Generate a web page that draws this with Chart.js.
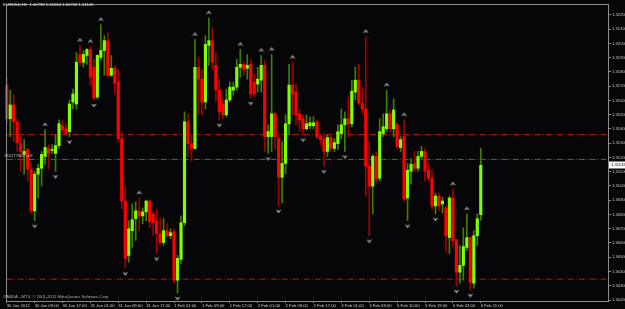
<!DOCTYPE html>
<html><head><meta charset="utf-8"><title>EURUSD,H1</title>
<script src="https://cdn.jsdelivr.net/npm/chart.js@4.4.1/dist/chart.umd.min.js"></script>
<style>html,body{margin:0;padding:0;background:#060608;overflow:hidden;width:625px;height:309px}canvas{display:block}</style>
</head><body><canvas id="chart" width="625" height="309"></canvas>
<script>
const symbol = "EURUSD";
const timeframe = "H1";

const opens = [1.31707,1.31471,1.31568,1.31450,1.31297,1.31221,1.31256,1.31117,1.30825,1.31082,
1.31124,1.31207,1.31263,1.31249,1.31228,1.31283,1.31422,1.31401,1.31381,1.31589,
1.31575,1.31922,1.31867,1.31915,1.31957,1.31832,1.31624,1.31901,1.31950,1.32019,
1.31776,1.31825,1.31728,1.31332,1.30894,1.30513,1.30686,1.30770,1.30825,1.30790,
1.30818,1.30894,1.30804,1.30756,1.30665,1.30603,1.30686,1.30651,1.30679,1.30339,
1.30485,1.30742,1.31450,1.31297,1.31263,1.31832,1.31749,1.31589,1.31985,1.32019,
1.31846,1.31672,1.31575,1.31499,1.31603,1.31672,1.31693,1.31832,1.31853,1.31825,
1.31853,1.31728,1.31714,1.31742,1.31846,1.31346,1.31346,1.31506,1.31332,1.31061,
1.31158,1.31436,1.31707,1.31658,1.31506,1.31471,1.31401,1.31422,1.31422,1.31450,
1.31353,1.31332,1.31242,1.31339,1.31263,1.31297,1.31367,1.31429,1.31471,1.31436,
1.31658,1.31742,1.31582,1.31540,1.31138,1.30999,1.31207,1.31054,1.31367,1.31401,
1.31506,1.31401,1.31429,1.31270,1.31346,1.30915,1.31103,1.31158,1.31124,1.31207,
1.31242,1.31110,1.31054,1.30860,1.30929,1.30874,1.30846,1.30638,1.30915,1.30624,
1.30395,1.30443,1.30568,1.30638,1.30318,1.30651,1.30798];

const highs = [1.31762,1.31672,1.31637,1.31471,1.31360,1.31325,1.31263,1.31172,1.31103,1.31151,
1.31242,1.31394,1.31290,1.31290,1.31360,1.31464,1.31457,1.31436,1.31603,1.31679,
1.31936,1.31985,1.31950,1.31964,1.31978,1.31888,1.31922,1.32131,1.32054,1.32075,
1.31915,1.31846,1.31818,1.31381,1.30999,1.30756,1.30874,1.30888,1.30915,1.30846,
1.30901,1.30901,1.30825,1.30839,1.30776,1.30770,1.30735,1.30700,1.30700,1.30513,
1.30790,1.31520,1.31506,1.31360,1.32026,1.31901,1.31818,1.32054,1.32179,1.32110,
1.31936,1.31749,1.31610,1.31679,1.31728,1.31728,1.31888,1.31957,1.31867,1.31922,
1.31888,1.31783,1.31832,1.31915,1.31881,1.31429,1.31922,1.31520,1.31360,1.31311,
1.31499,1.31853,1.31867,1.31714,1.31540,1.31499,1.31499,1.31485,1.31485,1.31464,
1.31367,1.31367,1.31360,1.31367,1.31332,1.31429,1.31540,1.31520,1.31624,1.31742,
1.31832,1.31853,1.31693,1.32047,1.31311,1.31221,1.31242,1.31471,1.31506,1.31672,
1.31533,1.31610,1.31443,1.31346,1.31464,1.31158,1.31193,1.31242,1.31242,1.31276,
1.31263,1.31158,1.31117,1.30950,1.30950,1.30922,1.30860,1.30929,1.30978,1.30624,
1.30582,1.30707,1.30804,1.30645,1.30686,1.30804,1.31264];

const lows = [1.31436,1.31346,1.31311,1.31242,1.31103,1.31082,1.31033,1.30804,1.30756,1.30915,
1.30999,1.31151,1.31124,1.31228,1.31103,1.31263,1.31374,1.31360,1.31346,1.31540,
1.31540,1.31846,1.31832,1.31853,1.31707,1.31603,1.31610,1.31881,1.31776,1.31762,
1.31769,1.31645,1.31311,1.30839,1.30422,1.30464,1.30568,1.30617,1.30686,1.30735,
1.30756,1.30707,1.30651,1.30526,1.30582,1.30582,1.30638,1.30631,1.30318,1.30249,
1.30457,1.30721,1.31207,1.31172,1.31256,1.31499,1.31499,1.31540,1.31846,1.31818,
1.31589,1.31464,1.31471,1.31485,1.31589,1.31637,1.31672,1.31762,1.31776,1.31749,
1.31617,1.31624,1.31658,1.31658,1.31242,1.31228,1.31242,1.31256,1.30860,1.30881,
1.31082,1.31360,1.31499,1.31429,1.31381,1.31360,1.31394,1.31401,1.31401,1.31332,
1.31290,1.31138,1.31207,1.31242,1.31242,1.31256,1.31332,1.31242,1.31346,1.31415,
1.31603,1.31568,1.31506,1.30929,1.30651,1.30804,1.31020,1.31033,1.31346,1.31381,
1.31381,1.31346,1.31263,1.31242,1.30894,1.30756,1.31013,1.31103,1.31103,1.31186,
1.31033,1.31033,1.30839,1.30804,1.30825,1.30811,1.30533,1.30526,1.30568,1.30298,
1.30318,1.30339,1.30547,1.30270,1.30283,1.30582,1.30758];

const closes = [1.31471,1.31568,1.31450,1.31304,1.31242,1.31242,1.31117,1.30825,1.31082,1.31124,
1.31221,1.31270,1.31228,1.31256,1.31283,1.31436,1.31394,1.31367,1.31575,1.31645,
1.31867,1.31867,1.31922,1.31957,1.31762,1.31617,1.31915,1.31950,1.32019,1.31776,
1.31825,1.31721,1.31332,1.30894,1.30492,1.30700,1.30763,1.30825,1.30790,1.30818,
1.30894,1.30749,1.30742,1.30665,1.30603,1.30686,1.30651,1.30672,1.30339,1.30492,
1.30742,1.31450,1.31297,1.31263,1.31832,1.31749,1.31589,1.31992,1.32019,1.31867,
1.31672,1.31520,1.31499,1.31603,1.31693,1.31693,1.31832,1.31853,1.31818,1.31846,
1.31645,1.31645,1.31749,1.31846,1.31346,1.31381,1.31506,1.31346,1.31061,1.31158,
1.31436,1.31707,1.31645,1.31499,1.31464,1.31401,1.31436,1.31443,1.31443,1.31346,
1.31325,1.31242,1.31339,1.31263,1.31304,1.31381,1.31429,1.31471,1.31436,1.31665,
1.31742,1.31582,1.31540,1.31138,1.30999,1.31207,1.31047,1.31381,1.31415,1.31506,
1.31401,1.31533,1.31276,1.31325,1.30908,1.31110,1.31151,1.31124,1.31207,1.31242,
1.31103,1.31054,1.30860,1.30929,1.30860,1.30894,1.30651,1.30915,1.30617,1.30395,
1.30443,1.30575,1.30638,1.30325,1.30651,1.30770,1.31145];

const tickLabels = ["30 Jan 2012","30 Jan 09:00","30 Jan 17:00","31 Jan 01:00","31 Jan 09:00","31 Jan 17:00",
"1 Feb 01:00","1 Feb 09:00","1 Feb 17:00","2 Feb 01:00","2 Feb 09:00","2 Feb 17:00",
"3 Feb 01:00","3 Feb 09:00","5 Feb 10:00","5 Feb 19:00","6 Feb 03:00","6 Feb 11:00"];
const yTickValues = [1.302,1.303,1.304,1.305,1.306,1.307,1.308,1.309,1.310,1.311,1.312,
1.313,1.314,1.315,1.316,1.317,1.318,1.319,1.320,1.321,1.322];

const fractalUpBars = [11,21,24,27,38,54,58,67,73,76,82,103,109,114,128,132];
const fractalDownBars = [8,14,18,25,34,43,49,61,70,75,78,85,91,97,104,115,123,129,133];

const orderPrice = 1.31186;
const stopLossPrice = 1.31360;
const takeProfitPrice = 1.30346;
const orderLabel = "#81277502 sell";
const brokerNote = "OANDA - MT4, \u00a9 2001-2011 MetaQuotes Software Corp.";

// ---- layout / style ----
const LABELS_EVERY = 8, SLOT_COUNT = 173, Y_MIN = 1.30193, Y_MAX = 1.32269;
const FONT = "'Liberation Sans', Arial, sans-serif";
const FS = 4.2;
const C = {
  bg: '#060608', bullBody: '#80ff00', bearBody: '#ff0000', bullWick: '#3f7f00', bearWick: '#a00000',
  frame: '#8c8c8c', text: '#c8c8c8', fractal: '#9a9a9a', slLine: 'rgb(200,20,20)', orderLine: 'rgb(20,150,20)'
};

const n = opens.length;
const bull = i => closes[i] >= opens[i];
const categories = Array.from({length: SLOT_COUNT}, (_, i) => String(i));
const fmt = v => v.toFixed(5);

function makeArrow(up) {
  const c = document.createElement('canvas'); c.width = 7; c.height = 16;
  const g = c.getContext('2d'); g.fillStyle = C.fractal; g.beginPath();
  if (up) { g.moveTo(3.5, 0.5); g.lineTo(6.5, 4.5); g.lineTo(3.5, 3.2); g.lineTo(0.5, 4.5); }
  else { g.moveTo(3.5, 15.5); g.lineTo(6.5, 11.5); g.lineTo(3.5, 12.8); g.lineTo(0.5, 11.5); }
  g.closePath(); g.fill();
  return c;
}

function levelLine(label, price, color) {
  return { type: 'line', label, data: categories.map(() => price), borderColor: color, backgroundColor: color,
    borderWidth: 1, borderDash: [6, 2, 1, 2], pointRadius: 0, fill: false, tension: 0, order: 5 };
}

const overlay = {
  id: 'mt4',
  beforeDraw(chart) {
    const {ctx, width, height} = chart;
    ctx.save(); ctx.fillStyle = C.bg; ctx.fillRect(0, 0, width, height); ctx.restore();
  },
  afterDraw(chart) {
    const {ctx, chartArea: a, scales: {y}} = chart;
    ctx.save();
    ctx.strokeStyle = C.frame; ctx.lineWidth = 1;
    ctx.strokeRect(a.left + 1.5, a.top - 0.5, a.right - a.left - 1, a.bottom - a.top + 1);
    ctx.font = FS + 'px ' + FONT; ctx.textBaseline = 'middle'; ctx.textAlign = 'left';
    ctx.fillStyle = '#e0e0e0';
    ctx.fillText(symbol + ',' + timeframe + '  ' + fmt(opens[n-1]) + ' ' + fmt(highs[n-1]) + ' ' + fmt(lows[n-1]) + ' ' + fmt(closes[n-1]), 3, 5);
    ctx.fillStyle = '#b0b0b0';
    ctx.fillText(brokerNote, 3, a.bottom - 4);
    const oy = Math.round(y.getPixelForValue(orderPrice));
    ctx.fillStyle = '#c8c8c8';
    ctx.fillText(orderLabel, 4, oy - 3);
    const cy = Math.round(y.getPixelForValue(closes[n-1]));
    ctx.fillStyle = '#ffffff'; ctx.fillRect(a.right + 1, cy - 3.5, 20, 7);
    ctx.fillStyle = '#000000'; ctx.fillText(fmt(closes[n-1]), a.right + 3, cy);
    ctx.restore();
  }
};

new Chart(document.getElementById('chart'), {
  data: {
    labels: categories,
    datasets: [
      { type: 'line', label: 'up fractals', data: opens.map((_, i) => fractalUpBars.includes(i) ? highs[i] : null),
        showLine: false, pointStyle: makeArrow(true), pointRadius: 3, order: -1 },
      { type: 'line', label: 'down fractals', data: opens.map((_, i) => fractalDownBars.includes(i) ? lows[i] : null),
        showLine: false, pointStyle: makeArrow(false), pointRadius: 3, order: -1 },
      { type: 'bar', label: 'body', data: opens.map((o, i) => [o, closes[i]]),
        backgroundColor: opens.map((_, i) => bull(i) ? C.bullBody : C.bearBody),
        barThickness: 2.5, grouped: false, minBarLength: 1, borderWidth: 0, order: 0 },
      { type: 'bar', label: 'wick', data: lows.map((l, i) => [l, highs[i]]),
        backgroundColor: opens.map((_, i) => bull(i) ? C.bullWick : C.bearWick),
        barThickness: 1, grouped: false, borderWidth: 0, order: 1 },
      levelLine('stop loss', stopLossPrice, C.slLine),
      levelLine('take profit', takeProfitPrice, C.slLine),
      levelLine('order', orderPrice, C.orderLine)
    ]
  },
  options: {
    responsive: false, devicePixelRatio: 1, animation: false,
    layout: { padding: { left: 0, top: 2, right: 0, bottom: 0 } },
    plugins: { legend: { display: false }, tooltip: { enabled: false } },
    scales: {
      x: {
        type: 'category', offset: true,
        afterFit: s => { s.height = 8; s.paddingLeft = 0; s.paddingRight = 0; },
        grid: { drawOnChartArea: false, drawTicks: true, tickLength: 2, offset: false,
          color: ctx => (ctx.index % LABELS_EVERY === 0 && ctx.index / LABELS_EVERY < tickLabels.length) ? C.frame : 'rgba(0,0,0,0)' },
        border: { display: false },
        ticks: { autoSkip: false, maxRotation: 0, minRotation: 0, align: 'start', padding: 0,
          color: C.text, font: { family: FONT, size: FS },
          callback: (v, i) => (i % LABELS_EVERY === 0 && i / LABELS_EVERY < tickLabels.length) ? tickLabels[i / LABELS_EVERY] : '' }
      },
      y: {
        type: 'linear', position: 'right', min: Y_MIN, max: Y_MAX,
        afterBuildTicks: s => { s.ticks = yTickValues.map(v => ({ value: v })); },
        afterFit: s => { s.width = 17; s.paddingTop = 0; s.paddingBottom = 0; },
        grid: { drawOnChartArea: false, drawTicks: true, tickLength: 3, color: C.frame },
        border: { display: false },
        ticks: { color: C.text, padding: 1, font: { family: FONT, size: FS }, callback: v => Number(v).toFixed(5) }
      }
    }
  },
  plugins: [overlay]
});
</script>
</body></html>
